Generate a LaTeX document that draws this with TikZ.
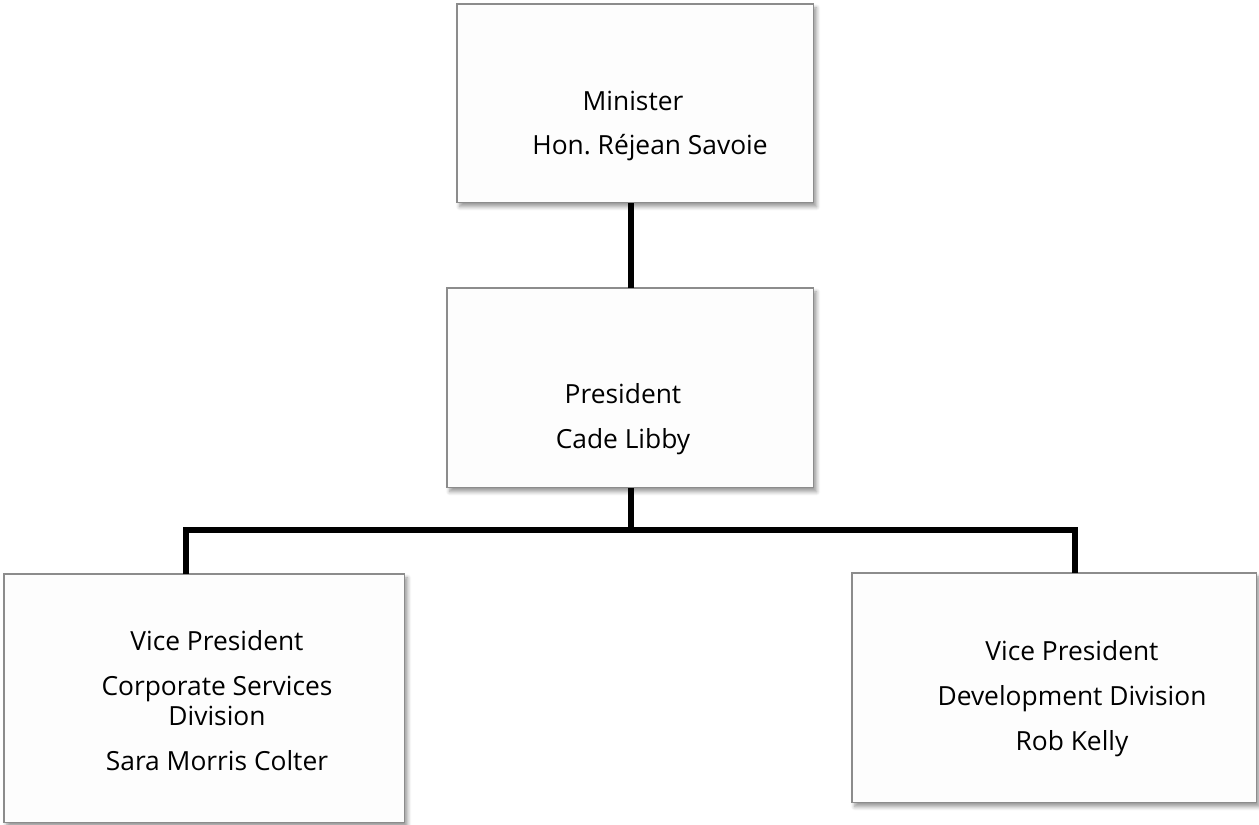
\documentclass[tikz,border=0pt]{standalone}
\usepackage{fontspec}
\setmainfont{Open Sans}
\usetikzlibrary{positioning, shadows.blur}

\definecolor{boxline}{HTML}{8C8C8C}
\definecolor{boxfill}{HTML}{FDFDFD}

\tikzset{
  orgbox/.style={draw=boxline, fill=boxfill, line width=0.6pt, rectangle,
    inner sep=0pt, outer sep=0pt, anchor=north west,
    blur shadow={shadow xshift=1.5pt, shadow yshift=-2.2pt, shadow blur steps=6, shadow opacity=40}},
  orgtext/.style={align=center, inner sep=0pt,
    font=\fontsize{15pt}{17pt}\selectfont},
  conn/.style={line width=2.9pt, line join=miter}
}

\begin{document}
\begin{tikzpicture}[x=0.02cm, y=-0.02cm]
    \useasboundingbox (0,0) rectangle (1259,825);

    % boxes of the chart
    \node [orgbox, minimum width=7.14cm, minimum height=3.98cm] (min) at (457,4) {};
    \node [orgbox, minimum width=7.34cm, minimum height=4.0cm] (pres) at (447,288) {};
    \node [orgbox, minimum width=8.02cm, minimum height=4.98cm] (lvp) at (4,574) {};
    \node [orgbox, minimum width=8.1cm, minimum height=4.6cm] (rvp) at (852,573) {};

    % texts inside the boxes
    \node [orgtext] (minT) at (633,126) {Minister\\[8.6pt]\hspace*{0.68cm}Hon.\ Réjean Savoie};
    \node [orgtext] (presT) at (623,419) {President\\[8.6pt]Cade Libby};
    \node [orgtext] (lvpT) at (217,701) {Vice President\\[8.6pt]Corporate Services\\Division\\[8.6pt]Sara Morris Colter};
    \node [orgtext] (rvpT) at (1072,699) {Vice President\\[8.6pt]Development Division\\[8.6pt]Rob Kelly};

    % connections
    \coordinate (bus) at (631,530);
    \coordinate (ldrop) at (186,530);
    \coordinate (rdrop) at (1075,530);
    \draw [conn] (pres.north -| bus) -- (min.south -| bus);
    \draw [conn] (pres.south -| bus) -- (bus);
    \draw [conn] (ldrop |- lvp.north) -- (ldrop) -- (rdrop) -- (rdrop |- rvp.north);
\end{tikzpicture}
\end{document}
